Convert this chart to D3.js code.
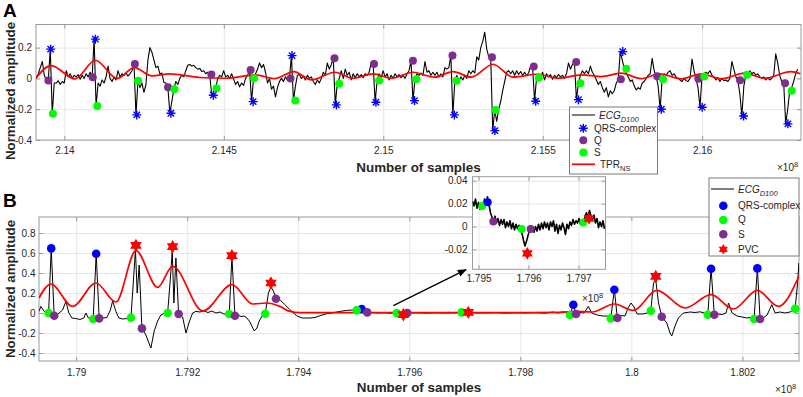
<!DOCTYPE html>
<html>
<head>
<meta charset="utf-8">
<script src="https://cdn.jsdelivr.net/npm/d3@7"></script>
<style>
  body { margin: 0; background: #fff; }
  svg text { font-family: "Liberation Sans", Arial, sans-serif; }
</style>
</head>
<body>
<svg id="fig" width="803" height="397"></svg>
<script>
// ---------- Panel A data (x in units of 1e8 samples) ----------
var ecgAStart = 2.13912, ecgAStep = 0.0000625;
var ecgA = [
  0.0, 0.03, 0.07, 0.11, 0.02, -0.01, -0.014, 0.19, -0.23, -0.03,
  -0.03, -0.015, -0.04, -0.02, -0.03, 0.05, 0.01, 0.03, 0.0, 0.02,
  0.01, 0.025, -0.005, 0.02, 0.0, 0.03, 0.01, 0.04, 0.008, 0.255,
  -0.179, -0.03, -0.05, -0.01, -0.03, 0.01, 0.08, 0.0, -0.02, 0.01,
  -0.01, 0.05, 0.01, 0.03, 0.02, 0.035, 0.015, 0.03, 0.05, 0.094,
  -0.237, -0.016, -0.06, -0.03, -0.09, -0.04, 0.12, 0.2, 0.17, 0.12,
  0.07, 0.08, 0.03, 0.035, -0.026, -0.03, -0.057, -0.226, -0.15, -0.07,
  -0.02, -0.04, 0.0, 0.02, 0.01, 0.05, 0.085, 0.09, 0.08, 0.085,
  0.07, 0.06, 0.065, 0.045, 0.05, 0.03, 0.04, 0.025, -0.109, -0.09,
  -0.064, 0.0, 0.02, 0.01, 0.05, 0.01, 0.02, 0.0, 0.03, -0.005,
  -0.04, -0.02, -0.055, -0.03, -0.045, 0.0, 0.02, 0.055, -0.151, 0.001,
  0.03, 0.06, 0.1, 0.07, 0.09, 0.04, -0.03, 0.0, -0.07, -0.05,
  -0.12, -0.06, -0.02, 0.0, -0.02, 0.01, -0.01, 0.0, 0.148, -0.144,
  -0.05, 0.02, 0.025, 0.0, 0.015, -0.01, 0.02, 0.0, 0.01, -0.02,
  -0.04, -0.01, -0.03, 0.0, 0.04, 0.02, 0.1, 0.06, 0.09, 0.131,
  -0.172, -0.034, 0.0, 0.05, 0.0, 0.06, 0.02, 0.04, -0.01, 0.03,
  0.005, 0.03, 0.01, 0.025, 0.005, 0.03, 0.02, 0.04, 0.1, 0.094,
  -0.155, -0.014, 0.03, 0.0, 0.05, 0.01, 0.03, -0.01, 0.02, 0.0,
  0.03, 0.01, 0.025, 0.005, 0.02, 0.0, 0.03, 0.05, 0.114, -0.144,
  -0.005, 0.03, 0.02, 0.035, 0.02, 0.11, 0.04, 0.05, 0.02, 0.04,
  0.02, 0.04, 0.01, 0.03, 0.01, 0.07, 0.06, 0.07, 0.148, -0.237,
  -0.016, 0.02, -0.02, 0.01, -0.01, 0.02, 0.0, 0.05, 0.03, 0.05,
  0.035, 0.14, 0.12, 0.2, 0.24, 0.3, 0.19, 0.14, 0.138, -0.339,
  -0.205, -0.28, -0.2, -0.15, -0.08, -0.02, 0.04, 0.05, 0.03, 0.05,
  0.02, 0.05, 0.025, 0.045, 0.02, 0.04, 0.02, 0.035, 0.08, 0.077,
  -0.148, 0.005, 0.03, 0.0, 0.04, -0.01, 0.03, 0.01, 0.025, -0.005,
  0.02, 0.005, 0.025, 0.01, 0.02, 0.0, 0.03, 0.1, 0.06, 0.09,
  0.107, -0.138, -0.031, 0.02, 0.05, 0.03, 0.05, 0.03, 0.08, 0.04,
  0.02, -0.01, -0.04, -0.02, -0.06, -0.09, -0.06, -0.12, -0.08, -0.1,
  -0.08, -0.03, -0.005, 0.174, 0.12, 0.062, 0.03, 0.01, -0.02, -0.01,
  -0.05, -0.075, -0.06, -0.07, -0.03, -0.02, 0.0, 0.02, 0.03, 0.13,
  0.05, 0.014, -0.05, -0.2, -0.005, 0.03, 0.02, 0.04, 0.05, 0.02,
  0.03, 0.01, 0.0, -0.01, -0.02, 0.0, -0.015, -0.02, 0.0, 0.125,
  0.05, -0.003, -0.06, -0.187, 0.012, 0.03, 0.04, 0.03, 0.05, 0.02,
  0.01, -0.01, 0.005, -0.02, 0.0, -0.015, -0.01, -0.02, 0.0, 0.11,
  0.06, 0.01, -0.012, -0.1, -0.244, -0.05, 0.023, 0.03, 0.05, 0.03,
  0.04, 0.02, 0.03, 0.01, 0.0, 0.01, -0.01, 0.005, -0.01, 0.0,
  0.02, 0.16, 0.1, 0.02, -0.02, -0.031, -0.295, -0.2, -0.081, -0.06,
  -0.02, 0.03, 0.06
];
var tprA = [
  [2.13911, 0.003], [2.139583, 0.083], [2.140335, -0.003], [2.140971, 0.118], [2.141651, 0.0],
  [2.142193, 0.07], [2.142748, 0.016], [2.14329, 0.03], [2.144251, 0.006], [2.145057, 0.001],
  [2.145975, 0.023], [2.146601, -0.001], [2.147196, 0.044], [2.147751, -0.01], [2.148481, 0.04],
  [2.149045, 0.001], [2.149681, 0.03], [2.150257, 0.001], [2.150934, 0.04], [2.151614, 0.008],
  [2.152187, 0.044], [2.152764, 0.008], [2.153441, 0.092], [2.154067, 0.008], [2.15485, 0.027],
  [2.155477, 0.001], [2.15621, 0.023], [2.156837, 0.012], [2.157463, 0.034], [2.15809, -0.001],
  [2.158663, 0.03], [2.159343, -0.003], [2.15997, 0.03], [2.160596, -0.003], [2.161326, 0.034],
  [2.161953, 0.001], [2.162789, 0.044], [2.16308, 0.03]
];
var qrsA = [
  [2.13957, 0.19], [2.14097, 0.255], [2.14227, -0.237], [2.14334, -0.226], [2.14467, -0.109],
  [2.14592, -0.151], [2.14714, 0.148], [2.14853, -0.172], [2.14977, -0.155], [2.15098, -0.144],
  [2.15223, -0.237], [2.1535, -0.339], [2.15478, -0.148], [2.15612, -0.138], [2.15751, 0.174],
  [2.15872, -0.2], [2.16, -0.187], [2.1613, -0.244], [2.16269, -0.295]
];
var qA = [
  [2.1395, -0.014], [2.14089, 0.008], [2.14221, 0.094], [2.14325, -0.057], [2.14461, 0.025],
  [2.14584, 0.055], [2.14709, -0.001], [2.14847, 0.131], [2.14971, 0.094], [2.15093, 0.114],
  [2.15217, 0.148], [2.15341, 0.138], [2.15472, 0.077], [2.15605, 0.107], [2.15745, -0.005],
  [2.15859, 0.014], [2.15988, -0.003], [2.16119, -0.012], [2.1626, -0.031]
];
var sA = [
  [2.13964, -0.23], [2.14103, -0.179], [2.14231, -0.016], [2.14345, -0.07], [2.14477, -0.064],
  [2.14595, 0.001], [2.14724, -0.144], [2.14862, -0.034], [2.14987, -0.014], [2.15104, -0.005],
  [2.1523, -0.016], [2.15353, -0.205], [2.15488, 0.005], [2.15618, -0.031], [2.15762, 0.062],
  [2.15877, -0.005], [2.16007, 0.012], [2.16141, 0.023], [2.16281, -0.081]
];
var ticksAx = [2.14, 2.145, 2.15, 2.155, 2.16];
var ticksAy = [-0.4, -0.2, 0, 0.2];

// ---------- Panel B data ----------
var ecgB = [
  [1.78933, 0.016], [1.789364, 0.066], [1.789423, 0.016], [1.789472, 0.005], [1.789503, 0.0],
  [1.78955, 0.646], [1.789604, -0.027], [1.78967, -0.01], [1.789755, 0.03], [1.789814, 0.116],
  [1.789868, 0.0], [1.789923, -0.05], [1.789995, -0.055], [1.790067, -0.065], [1.790139, -0.05],
  [1.790175, 0.0], [1.79022, -0.05], [1.790306, -0.06], [1.79036, 0.593], [1.790414, -0.054],
  [1.790481, -0.05], [1.790553, -0.045], [1.790616, 0.03], [1.790656, 0.12], [1.790715, 0.016],
  [1.790769, -0.05], [1.790841, -0.06], [1.790914, -0.055], [1.790986, -0.047], [1.791022, 0.25],
  [1.791067, 0.63], [1.791099, 0.2], [1.791135, 0.48], [1.791184, -0.154], [1.791256, -0.22],
  [1.79131, -0.3], [1.791346, -0.35], [1.791405, -0.18], [1.791467, -0.08], [1.791526, -0.02],
  [1.791598, 0.0], [1.791647, 0.0], [1.791697, 0.35], [1.79173, 0.62], [1.79176, 0.1],
  [1.791796, 0.55], [1.791845, -0.01], [1.791917, -0.04], [1.791977, -0.2], [1.792036, -0.09],
  [1.792097, 0.0], [1.792157, 0.016], [1.792229, 0.01], [1.792301, 0.02], [1.792373, 0.005],
  [1.792445, 0.02], [1.792517, 0.0], [1.792589, 0.01], [1.792661, -0.01], [1.792757, -0.01],
  [1.792805, 0.57], [1.792859, -0.027], [1.792914, -0.02], [1.792968, -0.035], [1.793022, -0.03],
  [1.793076, -0.05], [1.79313, -0.09], [1.793207, -0.18], [1.793256, -0.15], [1.793297, -0.08],
  [1.793359, -0.02], [1.793405, -0.007], [1.793463, 0.2], [1.793508, 0.26], [1.793553, 0.22],
  [1.793598, 0.143], [1.79367, 0.133], [1.79376, 0.083], [1.79385, 0.033], [1.793971, -0.027],
  [1.794067, -0.05], [1.794211, -0.05], [1.794301, -0.045], [1.794391, -0.027], [1.794512, -0.007],
  [1.794602, 0.0], [1.794751, 0.016], [1.794872, 0.026], [1.794991, 0.03], [1.795052, 0.026],
  [1.795142, 0.04], [1.795243, 0.006], [1.795328, 0.004], [1.795436, 0.0], [1.795544, 0.003],
  [1.795652, -0.002], [1.795773, 0.0], [1.795892, -0.012], [1.795964, 0.0], [1.796103, 0.002],
  [1.796283, -0.001], [1.796463, 0.002], [1.796643, 0.0], [1.796823, 0.001], [1.796944, 0.002],
  [1.797063, 0.006], [1.797184, 0.002], [1.797364, 0.0], [1.797544, 0.003], [1.797724, -0.002],
  [1.797904, 0.002], [1.798085, 0.0], [1.798265, 0.003], [1.798445, -0.002], [1.798589, 0.01],
  [1.798679, 0.0], [1.798769, 0.012], [1.798841, 0.0], [1.798895, -0.02], [1.798955, 0.083],
  [1.799004, -0.01], [1.799076, 0.005], [1.799148, 0.0], [1.799225, 0.066], [1.799287, 0.0],
  [1.799382, -0.02], [1.79949, -0.03], [1.799562, -0.03], [1.799629, -0.054], [1.799694, 0.233],
  [1.799748, -0.05], [1.799814, -0.025], [1.799886, -0.03], [1.79994, 0.05], [1.799994, 0.1],
  [1.800049, 0.06], [1.800103, -0.01], [1.800211, -0.01], [1.800283, 0.0], [1.80035, 0.023],
  [1.8004, 0.3], [1.80044, 0.33], [1.80049, 0.1], [1.800548, -0.037], [1.800638, -0.1],
  [1.800697, -0.2], [1.800728, -0.23], [1.800787, -0.13], [1.800847, -0.05], [1.800937, 0.0],
  [1.801058, 0.01], [1.801148, 0.005], [1.801238, 0.012], [1.80131, 0.0], [1.801377, -0.017],
  [1.801436, 0.443], [1.801495, -0.017], [1.801562, -0.01], [1.801634, -0.015], [1.801706, 0.0],
  [1.801751, 0.1], [1.801815, 0.0], [1.801905, -0.03], [1.801995, -0.04], [1.802085, -0.05],
  [1.802139, -0.045], [1.802211, -0.06], [1.80227, 0.446], [1.802319, -0.06], [1.802373, -0.05],
  [1.802445, -0.02], [1.80253, 0.083], [1.802589, 0.0], [1.802679, 0.01], [1.802769, 0.0],
  [1.802859, 0.01], [1.80295, 0.043], [1.802995, 0.3], [1.803017, 0.5]
];
var tprB = [
  [1.78933, 0.15], [1.789544, 0.29], [1.789935, 0.066], [1.790355, 0.3], [1.790715, 0.11],
  [1.791076, 0.623], [1.791467, 0.256], [1.791737, 0.466], [1.792283, 0.02], [1.792805, 0.283],
  [1.793178, 0.09], [1.793431, 0.1], [1.79367, 0.066], [1.79385, 0.016], [1.79403, 0.004],
  [1.795832, 0.004], [1.797634, 0.004], [1.798714, 0.006], [1.798985, 0.016], [1.799292, 0.01],
  [1.799694, 0.09], [1.800036, 0.026], [1.800458, 0.226], [1.800968, 0.05], [1.801436, 0.183],
  [1.801838, 0.04], [1.80227, 0.226], [1.802649, 0.066], [1.803017, 0.366]
];
var qrsB = [
  [1.78955, 0.646], [1.79036, 0.593], [1.795142, 0.04], [1.798955, 0.083], [1.799694, 0.233],
  [1.801436, 0.443], [1.80227, 0.446]
];
var qB = [
  [1.789503, 0.0], [1.790306, -0.06], [1.790986, -0.047], [1.791647, 0.0], [1.792757, -0.01],
  [1.793405, -0.007], [1.795052, 0.026], [1.795773, 0.0], [1.796944, 0.006], [1.798895, -0.02],
  [1.799629, -0.054], [1.80035, 0.023], [1.801377, -0.017], [1.802211, -0.06], [1.80295, 0.043]
];
var sB = [
  [1.789604, -0.027], [1.790414, -0.054], [1.791184, -0.154], [1.791845, -0.01], [1.792859, -0.027],
  [1.793598, 0.143], [1.795243, 0.006], [1.795964, 0.0], [1.799004, -0.01], [1.799748, -0.05],
  [1.800548, -0.037], [1.801495, -0.017], [1.802319, -0.06]
];
var pvcB = [
  [1.791076, 0.676], [1.791737, 0.663], [1.792805, 0.573], [1.793508, 0.3], [1.795892, -0.017],
  [1.797063, 0.006], [1.80044, 0.366]
];
var ticksBx = [1.79, 1.792, 1.794, 1.796, 1.798, 1.8, 1.802];
var ticksBy = [-0.4, -0.2, 0, 0.2, 0.4, 0.6, 0.8];

// ---------- Inset (zoom of panel B) ----------
var insetStart = 1.79488, insetStep = 0.00003;
var insetEcg = [
  0.022, 0.018, 0.024, 0.016, 0.021, 0.015, 0.019, 0.017, 0.024, 0.02,
  0.026, 0.019, 0.012, 0.008, 0.004, 0.009, 0.003, 0.007, 0.001, 0.006,
  0.002, 0.006, -0.001, 0.004, 0.0, 0.005, -0.002, 0.003, -0.003, 0.002,
  -0.002, 0.001, -0.003, -0.006, -0.012, -0.017, -0.013, -0.008, -0.003, -0.004,
  -0.001, -0.005, 0.0, -0.004, 0.002, -0.003, 0.003, -0.002, 0.004, -0.001,
  0.003, -0.003, 0.004, 0.0, 0.005, -0.004, 0.002, -0.006, 0.001, -0.003,
  0.003, -0.001, -0.007, 0.002, -0.002, 0.004, 0.001, 0.006, 0.002, 0.005,
  0.003, 0.007, 0.002, 0.006, 0.003, 0.009, 0.012, 0.008, 0.014, 0.009,
  0.006, 0.01, 0.003, 0.007, -0.001, 0.004, 0.0, 0.005, -0.002
];
var insetQrs = [[1.795184, 0.0211]];
var insetQ = [[1.795076, 0.0179], [1.795864, -0.0023], [1.797096, 0.0035]];
var insetS = [[1.795296, 0.0043], [1.796044, -0.0023]];
var insetPvc = [[1.795976, -0.0235], [1.79721, 0.007]];
var ticksIx = [1.795, 1.796, 1.797];
var ticksIy = [-0.02, 0, 0.02, 0.04];

var BLUE = "#0000ff", GREEN = "#00ff00", PURPLE = "#7e2f8e", RED = "#ff0000";
var INK = "#262626", EDGE = "#9a9a9a", GRID = "#e6e6e6";

// custom marker shapes
var asterisk = {
  draw: function(ctx, size) {
    var r = Math.sqrt(size) / 2, d = r * Math.SQRT1_2;
    ctx.moveTo(-r, 0); ctx.lineTo(r, 0);
    ctx.moveTo(0, -r); ctx.lineTo(0, r);
    ctx.moveTo(-d, -d); ctx.lineTo(d, d);
    ctx.moveTo(-d, d); ctx.lineTo(d, -d);
  }
};
var hexagram = {
  draw: function(ctx, size) {
    var r = Math.sqrt(size) / 2;
    for (var t = 0; t < 2; t++) {
      for (var k = 0; k < 3; k++) {
        var a = -Math.PI / 2 + t * Math.PI + k * 2 * Math.PI / 3;
        if (k === 0) ctx.moveTo(r * Math.cos(a), r * Math.sin(a));
        else ctx.lineTo(r * Math.cos(a), r * Math.sin(a));
      }
      ctx.closePath();
    }
  }
};

var svg = d3.select("#fig");
svg.append("rect").attr("width", 803).attr("height", 397).attr("fill", "#fff");

// scales
var xA = d3.scaleLinear().domain([2.13911, 2.1631]).range([36, 801]);
var yA = d3.scaleLinear().domain([-0.4, 0.35]).range([140, 24.5]);
var xB = d3.scaleLinear().domain([1.78933, 1.80302]).range([39, 799]);
var yB = d3.scaleLinear().domain([-0.48, 0.96]).range([361, 217]);
var xI = d3.scaleLinear().domain([1.79488, 1.79754]).range([472.5, 605.5]);
var yI = d3.scaleLinear().domain([-0.0374, 0.0435]).range([269.3, 176.7]);

//draws background, grid, inward ticks, tick labels and the box
function frame(g, x, y, xt, yt, xpad, ypad, fs) {
  var l = x.range()[0], r = x.range()[1], b = y.range()[0], t = y.range()[1];
  g.append("rect").attr("x", l).attr("y", t).attr("width", r - l).attr("height", b - t).attr("fill", "#fff");

  g.append("g").attr("transform", "translate(0," + b + ")")
    .call(d3.axisBottom(x).tickValues(xt).tickSize(-(b - t)).tickFormat(""))
    .call(function(s) { s.select(".domain").remove(); s.selectAll("line").attr("stroke", GRID); });
  g.append("g").attr("transform", "translate(" + l + ",0)")
    .call(d3.axisLeft(y).tickValues(yt).tickSize(-(r - l)).tickFormat(""))
    .call(function(s) { s.select(".domain").remove(); s.selectAll("line").attr("stroke", GRID); });

  var axes = [
    [d3.axisBottom(x).tickValues(xt).tickSize(-4).tickPadding(xpad).tickFormat(String), "translate(0," + b + ")"],
    [d3.axisTop(x).tickValues(xt).tickSize(-4).tickFormat(""), "translate(0," + t + ")"],
    [d3.axisLeft(y).tickValues(yt).tickSize(-4).tickPadding(ypad).tickFormat(String), "translate(" + l + ",0)"],
    [d3.axisRight(y).tickValues(yt).tickSize(-4).tickFormat(""), "translate(" + r + ",0)"]
  ];
  axes.forEach(function(a) {
    g.append("g").attr("transform", a[1]).call(a[0])
      .attr("font-family", null).attr("font-size", fs)
      .call(function(s) {
        s.select(".domain").remove();
        s.selectAll("line").attr("stroke", EDGE);
        s.selectAll("text").attr("fill", INK);
      });
  });
  g.append("rect").attr("x", l).attr("y", t).attr("width", r - l).attr("height", b - t)
    .attr("fill", "none").attr("stroke", EDGE);
}

function clipFor(id, x, y) {
  svg.append("clipPath").attr("id", id).append("rect")
    .attr("x", x.range()[0]).attr("y", y.range()[1])
    .attr("width", x.range()[1] - x.range()[0]).attr("height", y.range()[0] - y.range()[1]);
  return "url(#" + id + ")";
}

function dots(g, x, y, data, color, r) {
  g.selectAll(null).data(data).join("circle")
    .attr("cx", function(d) { return x(d[0]); })
    .attr("cy", function(d) { return y(d[1]); })
    .attr("r", r).attr("fill", color);
}
function marks(g, x, y, data, type, size, fill, stroke) {
  g.selectAll(null).data(data).join("path")
    .attr("transform", function(d) { return "translate(" + x(d[0]) + "," + y(d[1]) + ")"; })
    .attr("d", d3.symbol().type(type).size(size))
    .attr("fill", fill).attr("stroke", stroke).attr("stroke-width", stroke === "none" ? 0 : 1.4);
}
function trace(g, x, y, data, color, w, curve) {
  g.append("path").datum(data)
    .attr("d", d3.line().x(function(d) { return x(d[0]); }).y(function(d) { return y(d[1]); }).curve(curve || d3.curveLinear))
    .attr("fill", "none").attr("stroke", color).attr("stroke-width", w).attr("stroke-linejoin", "round");
}
function exponent(x0, y0, fs) {
  var t = svg.append("text").attr("x", x0).attr("y", y0).attr("font-size", fs).attr("fill", INK).text("×10");
  t.append("tspan").attr("dy", -4).attr("font-size", fs * 0.75).text("8");
}

// ================= Panel A =================
var gA = svg.append("g");
frame(gA, xA, yA, ticksAx, ticksAy, 7, 4, 10);
var ecgAPts = ecgA.map(function(v, i) { return [ecgAStart + i * ecgAStep, v]; });
var plotA = gA.append("g").attr("clip-path", clipFor("clipA", xA, yA));
trace(plotA, xA, yA, ecgAPts, "#000", 1.1);
trace(plotA, xA, yA, tprA, RED, 1.7, d3.curveMonotoneX);
dots(gA, xA, yA, qA, PURPLE, 4);
dots(gA, xA, yA, sA, GREEN, 4);
marks(gA, xA, yA, qrsA, asterisk, 81, "none", BLUE);

svg.append("text").attr("x", 3).attr("y", 17).attr("font-size", 19).attr("font-weight", "bold").text("A");
svg.append("text").attr("transform", "translate(15,91) rotate(-90)").attr("text-anchor", "middle")
  .attr("font-size", 13.3).attr("font-weight", "bold").attr("fill", INK).text("Normalized amplitude");
svg.append("text").attr("x", 418.5).attr("y", 172).attr("text-anchor", "middle")
  .attr("font-size", 13.4).attr("font-weight", "bold").attr("fill", INK).text("Number of samples");
exponent(777, 171, 10);

// legend A
var lgA = svg.append("g");
var idf = function(v) { return v; };
lgA.append("rect").attr("x", 569.5).attr("y", 107).attr("width", 88).attr("height", 67)
  .attr("fill", "#fff").attr("stroke", "#7a7a7a");
lgA.append("line").attr("x1", 572).attr("x2", 595).attr("y1", 115).attr("y2", 115).attr("stroke", "#000");
var tA = lgA.append("text").attr("x", 599).attr("y", 118.5).attr("font-size", 10).attr("font-style", "italic").attr("fill", INK).text("ECG");
tA.append("tspan").attr("dy", 3.5).attr("font-size", 7.5).text("D100");
marks(lgA, idf, idf, [[583.3, 128.3]], asterisk, 81, "none", BLUE);
dots(lgA, idf, idf, [[583.3, 140.3]], PURPLE, 4);
dots(lgA, idf, idf, [[583.3, 152.4]], GREEN, 4);
lgA.append("line").attr("x1", 572).attr("x2", 595).attr("y1", 164.3).attr("y2", 164.3).attr("stroke", RED).attr("stroke-width", 1.7);
[["QRS-complex", 132.3], ["Q", 144.2], ["S", 156.2]].forEach(function(e) {
  lgA.append("text").attr("x", 594).attr("y", e[1]).attr("font-size", 10).attr("fill", INK).text(e[0]);
});
var tT = lgA.append("text").attr("x", 600).attr("y", 167.5).attr("font-size", 10).attr("fill", INK).text("TPR");
tT.append("tspan").attr("dy", 3.5).attr("font-size", 7.5).text("NS");

// ================= Panel B =================
var gB = svg.append("g");
frame(gB, xB, yB, ticksBx, ticksBy, 8, 3.5, 10);
var plotB = gB.append("g").attr("clip-path", clipFor("clipB", xB, yB));
trace(plotB, xB, yB, ecgB, "#000", 1);
trace(plotB, xB, yB, tprB, RED, 1.7, d3.curveMonotoneX);
dots(gB, xB, yB, qrsB, BLUE, 4.3);
dots(gB, xB, yB, qB, GREEN, 4.3);
dots(gB, xB, yB, sB, PURPLE, 4.3);
marks(gB, xB, yB, pvcB, hexagram, 180, RED, "none");

svg.append("text").attr("x", 3).attr("y", 207).attr("font-size", 19).attr("font-weight", "bold").text("B");
svg.append("text").attr("transform", "translate(15,289) rotate(-90)").attr("text-anchor", "middle")
  .attr("font-size", 13.3).attr("font-weight", "bold").attr("fill", INK).text("Normalized amplitude");
svg.append("text").attr("x", 419).attr("y", 392).attr("text-anchor", "middle")
  .attr("font-size", 13.4).attr("font-weight", "bold").attr("fill", INK).text("Number of samples");
exponent(775, 393, 10);

// arrow towards the inset
svg.append("defs").append("marker").attr("id", "head").attr("viewBox", "0 0 10 10")
  .attr("refX", 9).attr("refY", 5).attr("markerWidth", 7).attr("markerHeight", 7).attr("orient", "auto")
  .append("path").attr("d", "M0,1L10,5L0,9z").attr("fill", "#000");
var arrowB = [[1.795712, 0.073], [1.797022, 0.433]];
svg.append("line")
  .attr("x1", xB(arrowB[0][0])).attr("y1", yB(arrowB[0][1]))
  .attr("x2", xB(arrowB[1][0])).attr("y2", yB(arrowB[1][1]))
  .attr("stroke", "#000").attr("stroke-width", 1.3).attr("marker-end", "url(#head)");

// inset
var gI = svg.append("g");
frame(gI, xI, yI, ticksIx, ticksIy, 6, 5, 10);
var insetPts = insetEcg.map(function(v, i) { return [insetStart + i * insetStep, v]; });
var plotI = gI.append("g").attr("clip-path", clipFor("clipI", xI, yI));
trace(plotI, xI, yI, insetPts, "#000", 1.6);
dots(gI, xI, yI, insetQ, GREEN, 4);
dots(gI, xI, yI, insetQrs, BLUE, 4);
dots(gI, xI, yI, insetS, PURPLE, 4);
marks(gI, xI, yI, insetPvc, hexagram, 160, RED, "none");
exponent(582, 302, 10);

// legend B
var lgB = svg.append("g");
lgB.append("rect").attr("x", 709).attr("y", 178).attr("width", 90).attr("height", 78)
  .attr("fill", "#fff").attr("stroke", "#7a7a7a");
lgB.append("line").attr("x1", 711).attr("x2", 734).attr("y1", 189).attr("y2", 189).attr("stroke", "#000");
var tB = lgB.append("text").attr("x", 738).attr("y", 192.5).attr("font-size", 10).attr("font-style", "italic").attr("fill", INK).text("ECG");
tB.append("tspan").attr("dy", 3.5).attr("font-size", 7.5).text("D100");
dots(lgB, idf, idf, [[723.3, 205.7]], BLUE, 4.3);
dots(lgB, idf, idf, [[723.3, 220]], GREEN, 4.3);
dots(lgB, idf, idf, [[723.3, 234.3]], PURPLE, 4.3);
marks(lgB, idf, idf, [[723.3, 249.3]], hexagram, 110, RED, "none");
[["QRS-complex", 209], ["Q", 223.3], ["S", 237.6], ["PVC", 252.6]].forEach(function(e) {
  lgB.append("text").attr("x", 738).attr("y", e[1]).attr("font-size", 10).attr("fill", INK).text(e[0]);
});
</script>
</body>
</html>
